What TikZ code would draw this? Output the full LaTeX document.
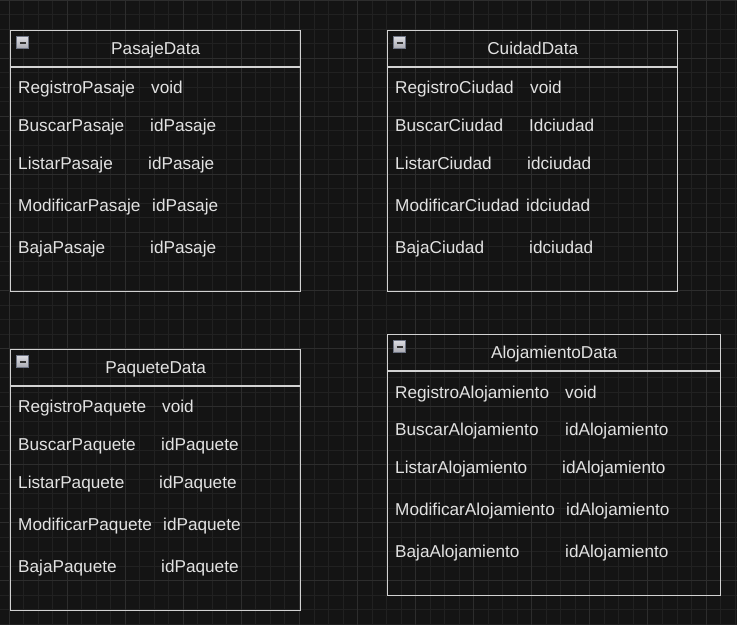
\documentclass[tikz,border=0pt]{standalone}
\usepackage{fontspec}
\setmainfont{Liberation Sans}
\usepackage{tikz}
\usetikzlibrary{positioning}

\definecolor{canvas}{HTML}{141414}
\definecolor{gridminor}{HTML}{212121}
\definecolor{gridmajor}{HTML}{2D2D2D}
\definecolor{boxline}{HTML}{D2D2D2}
\definecolor{txt}{HTML}{E2E2E2}
\definecolor{icontop}{HTML}{DCDCE2}
\definecolor{iconbot}{HTML}{A9AAB2}
\definecolor{iconedge}{HTML}{6E7484}

\begin{document}
\begin{tikzpicture}[x=1pt, y=-1pt,
    classbox/.style={draw=boxline, line width=1.4pt, rectangle, anchor=north west, inner sep=0pt, minimum height=261pt},
    headline/.style={draw=boxline, line width=1.4pt},
    title/.style={text=txt, font=\fontsize{17.2}{19}\selectfont, inner sep=0pt, anchor=base},
    member/.style={text=txt, font=\fontsize{17.2}{19}\selectfont, anchor=base west, inner sep=0pt},
    icon/.style={draw=iconedge, line width=0.8pt, top color=icontop, bottom color=iconbot, minimum size=12pt, inner sep=0pt,
        path picture={\draw[black!80, line width=2pt] ([xshift=3pt]path picture bounding box.west) -- ([xshift=-3pt]path picture bounding box.east);}}]

    \useasboundingbox (0,0) rectangle (737,625);
    \fill[canvas] (0,0) rectangle (737,625);

    %Grid
    \foreach \gx in {-5.52,9,...,740} \draw[gridminor, line width=0.8pt] (\gx,0) -- (\gx,625);
    \foreach \gy in {14.52,29.04,...,630} \draw[gridminor, line width=0.8pt] (0,\gy) -- (737,\gy);
    \foreach \gx in {9,67.08,...,740} \draw[gridmajor, line width=0.8pt] (\gx,0) -- (\gx,625);
    \foreach \gy in {0,58.08,...,630} \draw[gridmajor, line width=0.8pt] (0,\gy) -- (737,\gy);

    %Boxes
    \node[classbox, minimum width=290pt] (pasaje) at (10,30) {};
    \node[classbox, minimum width=290pt] (ciudad) at (387,30) {};
    \node[classbox, minimum width=290pt] (paquete) at (10,349) {};
    \node[classbox, minimum width=333pt] (alojamiento) at (387,334) {};

    %Header lines
    \draw[headline] ([yshift=-37pt]pasaje.north west) -- ([yshift=-37pt]pasaje.north east);
    \draw[headline] ([yshift=-37pt]ciudad.north west) -- ([yshift=-37pt]ciudad.north east);
    \draw[headline] ([yshift=-37pt]paquete.north west) -- ([yshift=-37pt]paquete.north east);
    \draw[headline] ([yshift=-37pt]alojamiento.north west) -- ([yshift=-37pt]alojamiento.north east);

    %Icons
    \node[icon] (pasajeI) at ([xshift=12.5pt,yshift=-12.5pt]pasaje.north west) {};
    \node[icon] (ciudadI) at ([xshift=12.5pt,yshift=-12.5pt]ciudad.north west) {};
    \node[icon] (paqueteI) at ([xshift=12.5pt,yshift=-12.5pt]paquete.north west) {};
    \node[icon] (alojamientoI) at ([xshift=12.5pt,yshift=-12.5pt]alojamiento.north west) {};

    %Titles
    \node[title] (pasajeT) at ([yshift=-24pt]pasaje.north) {PasajeData};
    \node[title] (ciudadT) at ([yshift=-24pt]ciudad.north) {CuidadData};
    \node[title] (paqueteT) at ([yshift=-24pt]paquete.north) {PaqueteData};
    \node[title] (alojamientoT) at ([yshift=-24pt]alojamiento.north) {AlojamientoData};

    %PasajeData
    \node[member] (regPasaje) at (18,93) {RegistroPasaje};
    \node[member] (regPasajeR) at (151,93) {void};
    \node[member] (busPasaje) at (18,131) {BuscarPasaje};
    \node[member] (busPasajeR) at (150,131) {idPasaje};
    \node[member] (lisPasaje) at (18,169) {ListarPasaje};
    \node[member] (lisPasajeR) at (148,169) {idPasaje};
    \node[member] (modPasaje) at (18,211) {ModificarPasaje};
    \node[member] (modPasajeR) at (152,211) {idPasaje};
    \node[member] (bajPasaje) at (18,253) {BajaPasaje};
    \node[member] (bajPasajeR) at (150,253) {idPasaje};

    %CuidadData
    \node[member] (regCiudad) at (395,93) {RegistroCiudad};
    \node[member] (regCiudadR) at (530,93) {void};
    \node[member] (busCiudad) at (395,131) {BuscarCiudad};
    \node[member] (busCiudadR) at (529,131) {Idciudad};
    \node[member] (lisCiudad) at (395,169) {ListarCiudad};
    \node[member] (lisCiudadR) at (527,169) {idciudad};
    \node[member] (modCiudad) at (395,211) {ModificarCiudad};
    \node[member] (modCiudadR) at (526,211) {idciudad};
    \node[member] (bajCiudad) at (395,253) {BajaCiudad};
    \node[member] (bajCiudadR) at (529,253) {idciudad};

    %PaqueteData
    \node[member] (regPaquete) at (18,412) {RegistroPaquete};
    \node[member] (regPaqueteR) at (162,412) {void};
    \node[member] (busPaquete) at (18,450) {BuscarPaquete};
    \node[member] (busPaqueteR) at (161,450) {idPaquete};
    \node[member] (lisPaquete) at (18,488) {ListarPaquete};
    \node[member] (lisPaqueteR) at (159,488) {idPaquete};
    \node[member] (modPaquete) at (18,530) {ModificarPaquete};
    \node[member] (modPaqueteR) at (163,530) {idPaquete};
    \node[member] (bajPaquete) at (18,572) {BajaPaquete};
    \node[member] (bajPaqueteR) at (161,572) {idPaquete};

    %AlojamientoData
    \node[member] (regAloj) at (395,398) {RegistroAlojamiento};
    \node[member] (regAlojR) at (565,398) {void};
    \node[member] (busAloj) at (395,435) {BuscarAlojamiento};
    \node[member] (busAlojR) at (565,435) {idAlojamiento};
    \node[member] (lisAloj) at (395,473) {ListarAlojamiento};
    \node[member] (lisAlojR) at (562,473) {idAlojamiento};
    \node[member] (modAloj) at (395,515) {ModificarAlojamiento};
    \node[member] (modAlojR) at (566,515) {idAlojamiento};
    \node[member] (bajAloj) at (395,557) {BajaAlojamiento};
    \node[member] (bajAlojR) at (565,557) {idAlojamiento};

\end{tikzpicture}
\end{document}
